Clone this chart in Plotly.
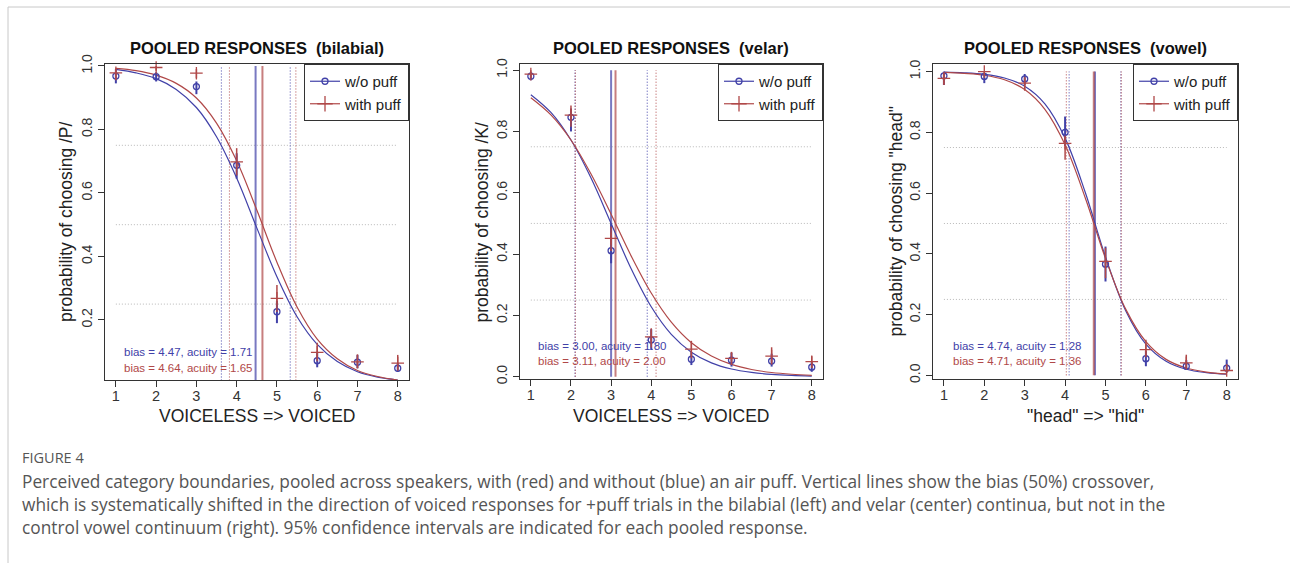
import plotly.graph_objects as go

W, H = 1290, 563

# ---------------- data ----------------
stimulus = [1, 2, 3, 4, 5, 6, 7, 8]
curve_x = [1, 1.5, 2, 2.5, 3, 3.5, 4, 4.5, 5, 5.5, 6, 6.5, 7, 7.5, 8]
x_ticks = [1, 2, 3, 4, 5, 6, 7, 8]

# bilabial
bil_nopuff = [0.968, 0.966, 0.935, 0.687, 0.226, 0.072, 0.067, 0.048]
bil_nopuff_lo = [0.945, 0.951, 0.911, 0.645, 0.190, 0.051, 0.048, 0.037]
bil_nopuff_hi = [0.990, 0.980, 0.951, 0.725, 0.260, 0.100, 0.090, 0.065]
bil_puff = [0.978, 0.995, 0.977, 0.698, 0.268, 0.098, 0.068, 0.064]
bil_puff_lo = [0.955, 0.985, 0.961, 0.655, 0.225, 0.070, 0.048, 0.040]
bil_puff_hi = [0.993, 1.000, 0.990, 0.741, 0.310, 0.128, 0.092, 0.090]
bil_curve_nopuff = [0.989, 0.978, 0.960, 0.926, 0.869, 0.777, 0.647, 0.490, 0.336,
                    0.210, 0.123, 0.069, 0.037, 0.020, 0.011]
bil_curve_puff = [0.992, 0.985, 0.971, 0.945, 0.899, 0.820, 0.701, 0.546, 0.382,
                  0.241, 0.140, 0.078, 0.041, 0.022, 0.011]
bil_bias = [4.47, 4.64]
bil_acuity = [1.71, 1.65]
bil_q_nopuff = [3.62, 5.33]
bil_q_puff = [3.82, 5.47]

# velar
vel_nopuff = [0.980, 0.846, 0.411, 0.120, 0.057, 0.054, 0.051, 0.031]
vel_nopuff_lo = [0.967, 0.800, 0.370, 0.087, 0.038, 0.033, 0.033, 0.016]
vel_nopuff_hi = [0.993, 0.875, 0.500, 0.155, 0.080, 0.078, 0.075, 0.050]
vel_puff = [0.987, 0.853, 0.451, 0.130, 0.090, 0.060, 0.067, 0.049]
vel_puff_lo = [0.975, 0.815, 0.410, 0.095, 0.060, 0.038, 0.040, 0.028]
vel_puff_hi = [1.000, 0.885, 0.490, 0.158, 0.117, 0.081, 0.096, 0.067]
vel_curve_nopuff = [0.920, 0.862, 0.772, 0.648, 0.500, 0.352, 0.228, 0.138, 0.080,
                    0.045, 0.025, 0.014, 0.0075, 0.0041, 0.0022]
vel_curve_puff = [0.910, 0.854, 0.772, 0.661, 0.530, 0.394, 0.273, 0.178, 0.111,
                  0.0675, 0.040, 0.0236, 0.0137, 0.0080, 0.0046]
vel_bias = [3.00, 3.11]
vel_acuity = [1.80, 2.00]
vel_q_nopuff = [2.10, 3.90]
vel_q_puff = [2.11, 4.12]

# vowel
vow_nopuff = [0.986, 0.984, 0.976, 0.800, 0.366, 0.055, 0.030, 0.024]
vow_nopuff_lo = [0.956, 0.962, 0.955, 0.755, 0.309, 0.030, 0.019, 0.010]
vow_nopuff_hi = [1.000, 0.995, 0.992, 0.852, 0.424, 0.080, 0.050, 0.052]
vow_puff = [0.978, 1.000, 0.962, 0.764, 0.375, 0.085, 0.041, 0.016]
vow_puff_lo = [0.956, 0.990, 0.937, 0.710, 0.320, 0.060, 0.020, 0.008]
vow_puff_hi = [0.995, 1.000, 0.980, 0.790, 0.420, 0.117, 0.068, 0.035]
vow_curve_nopuff = [0.998, 0.996, 0.991, 0.979, 0.952, 0.894, 0.781, 0.602, 0.390,
                    0.213, 0.103, 0.0465, 0.020, 0.0087, 0.0037]
vow_curve_puff = [0.9975, 0.994, 0.988, 0.973, 0.941, 0.876, 0.759, 0.584, 0.385,
                  0.218, 0.111, 0.0526, 0.0242, 0.0109, 0.0049]
vow_bias = [4.74, 4.71]
vow_acuity = [1.28, 1.36]
vow_q_nopuff = [4.10, 5.38]
vow_q_puff = [4.03, 5.39]

guide_levels = [0.25, 0.5, 0.75]
series_names = ["w/o puff", "with puff"]

# ---------------- style / layout ----------------
BLUE = "#4141a8"
RED = "#b04848"
FONT = "Liberation Sans, Arial, sans-serif"


def pxx(p):
    return p / W


def pxy(p):
    return 1 - p / H


panels = [
    dict(title="POOLED RESPONSES\u00a0 (bilabial)", ytitle="probability of choosing /P/",
         xtitle="VOICELESS => VOICED", box=(105, 409, 64, 380), yrange=[0.011, 1.006],
         yticks=[0.2, 0.4, 0.6, 0.8, 1.0], ytitle_x=66, bias_y=(351.5, 368),
         bias_x=121.5,
         d=(bil_nopuff, bil_nopuff_lo, bil_nopuff_hi, bil_puff, bil_puff_lo, bil_puff_hi,
            bil_curve_nopuff, bil_curve_puff, bil_bias, bil_acuity, bil_q_nopuff, bil_q_puff)),
    dict(title="POOLED RESPONSES\u00a0 (velar)", ytitle="probability of choosing /K/",
         xtitle="VOICELESS => VOICED", box=(520, 823, 64, 379), yrange=[-0.0075, 1.02],
         yticks=[0.0, 0.2, 0.4, 0.6, 0.8, 1.0], ytitle_x=481, bias_y=(346, 360.7),
         bias_x=536,
         d=(vel_nopuff, vel_nopuff_lo, vel_nopuff_hi, vel_puff, vel_puff_lo, vel_puff_hi,
            vel_curve_nopuff, vel_curve_puff, vel_bias, vel_acuity, vel_q_nopuff, vel_q_puff)),
    dict(title="POOLED RESPONSES\u00a0 (vowel)", ytitle='probability of choosing "head"',
         xtitle='"head" => "hid"', box=(933, 1238, 64, 379), yrange=[-0.012, 1.025],
         yticks=[0.0, 0.2, 0.4, 0.6, 0.8, 1.0], ytitle_x=895, bias_y=(346, 360.7),
         bias_x=950.5,
         d=(vow_nopuff, vow_nopuff_lo, vow_nopuff_hi, vow_puff, vow_puff_lo, vow_puff_hi,
            vow_curve_nopuff, vow_curve_puff, vow_bias, vow_acuity, vow_q_nopuff, vow_q_puff)),
]

fig = go.Figure()
annotations = []
layout_axes = {}

for i, p in enumerate(panels, start=1):
    sfx = "" if i == 1 else str(i)
    xa, ya = "x" + sfx, "y" + sfx
    lg = "legend" + sfx
    (nop, nop_lo, nop_hi, puf, puf_lo, puf_hi, c_nop, c_puf, bias, acu, q_nop, q_puf) = p["d"]
    x0, x1, y0, y1 = p["box"]

    # horizontal dotted guides
    for lv in guide_levels:
        fig.add_trace(go.Scatter(x=[stimulus[0], stimulus[-1]], y=[lv, lv], mode="lines",
                                 line=dict(color="#b8b8b8", width=1, dash="1px,2px"),
                                 xaxis=xa, yaxis=ya, showlegend=False, hoverinfo="skip"))
    # quartile (25/75%) dotted lines
    for qv, col in ((q_nop, BLUE), (q_puf, RED)):
        for q in qv:
            fig.add_trace(go.Scatter(x=[q, q], y=[0, 1], mode="lines",
                                     line=dict(color=col, width=1, dash="1px,2px"),
                                     xaxis=xa, yaxis=ya, showlegend=False, hoverinfo="skip"))
    # bias solid lines
    for b, col in zip(bias, (BLUE, RED)):
        fig.add_trace(go.Scatter(x=[b, b], y=[0, 1], mode="lines",
                                 line=dict(color=col, width=2), opacity=0.7,
                                 xaxis=xa, yaxis=ya, showlegend=False, hoverinfo="skip"))
    # fitted curves
    fig.add_trace(go.Scatter(x=curve_x, y=c_nop, mode="lines", line=dict(color=BLUE, width=1.2,
                             shape="spline"), xaxis=xa, yaxis=ya, showlegend=False))
    fig.add_trace(go.Scatter(x=curve_x, y=c_puf, mode="lines", line=dict(color=RED, width=1.2,
                             shape="spline"), xaxis=xa, yaxis=ya, showlegend=False))
    # points with CI
    fig.add_trace(go.Scatter(
        x=stimulus, y=nop, mode="markers",
        marker=dict(symbol="circle-open", size=6, color=BLUE, line=dict(width=1.3, color=BLUE)),
        error_y=dict(type="data", symmetric=False,
                     array=[h - v for h, v in zip(nop_hi, nop)],
                     arrayminus=[v - l for v, l in zip(nop, nop_lo)],
                     color=BLUE, thickness=2, width=0),
        xaxis=xa, yaxis=ya, showlegend=False, cliponaxis=False))
    fig.add_trace(go.Scatter(
        x=stimulus, y=puf, mode="markers",
        marker=dict(symbol="cross-thin-open", size=9, color=RED, line=dict(width=1.3, color=RED)),
        error_y=dict(type="data", symmetric=False,
                     array=[h - v for h, v in zip(puf_hi, puf)],
                     arrayminus=[v - l for v, l in zip(puf, puf_lo)],
                     color=RED, thickness=1.5, width=0),
        xaxis=xa, yaxis=ya, showlegend=False, cliponaxis=False))
    # legend entries
    fig.add_trace(go.Scatter(x=[None], y=[None], mode="lines+markers", name=series_names[0],
                             line=dict(color=BLUE, width=1.2),
                             marker=dict(symbol="circle-open", size=6, color=BLUE,
                                         line=dict(width=1.3, color=BLUE)),
                             xaxis=xa, yaxis=ya, legend=lg, showlegend=True))
    fig.add_trace(go.Scatter(x=[None], y=[None], mode="lines+markers", name=series_names[1],
                             line=dict(color=RED, width=1.2),
                             marker=dict(symbol="cross-thin-open", size=11, color=RED,
                                         line=dict(width=1.3, color=RED)),
                             xaxis=xa, yaxis=ya, legend=lg, showlegend=True))

    layout_axes["xaxis" + sfx] = dict(
        domain=[pxx(x0), pxx(x1)], anchor=ya, range=[0.73, 8.28], automargin=False,
        tickvals=x_ticks, ticks="outside", ticklen=6, tickwidth=1, tickcolor="#333",
        ticklabelstandoff=-3,
        showline=True, linecolor="#333", linewidth=1, mirror=True, showgrid=False,
        zeroline=False, tickfont=dict(family=FONT, size=14.5, color="#333"))
    layout_axes["yaxis" + sfx] = dict(
        domain=[pxy(y1), pxy(y0)], anchor=xa, range=p["yrange"], automargin=False,
        tickvals=p["yticks"], tickformat=".1f", tickangle=-90, ticks="outside", ticklen=6,
        tickwidth=1, tickcolor="#333", showline=True, linecolor="#333", linewidth=1,
        mirror=True, showgrid=False, zeroline=False,
        tickfont=dict(family=FONT, size=14, color="#333"))
    layout_axes[lg] = dict(
        x=pxx(x1), y=pxy(y0), xanchor="right", yanchor="top", bgcolor="white",
        bordercolor="#333", borderwidth=1, font=dict(family=FONT, size=15, color="#222"),
        itemwidth=30, tracegroupgap=0)

    cx = (x0 + x1) / 2
    annotations.append(dict(text="<b>" + p["title"] + "</b>", x=pxx(cx), y=pxy(48),
                            xref="paper", yref="paper", showarrow=False, xanchor="center",
                            yanchor="middle", font=dict(family=FONT, size=16.5, color="#111")))
    annotations.append(dict(text=p["xtitle"], x=pxx(cx), y=pxy(416), xref="paper", yref="paper",
                            showarrow=False, xanchor="center", yanchor="middle",
                            font=dict(family=FONT, size=17.5, color="#222")))
    annotations.append(dict(text=p["ytitle"], x=pxx(p["ytitle_x"]), y=pxy((y0 + y1) / 2),
                            xref="paper", yref="paper", showarrow=False, textangle=-90,
                            xanchor="center", yanchor="middle",
                            font=dict(family=FONT, size=17.5, color="#222")))
    for b, a, col, yy in zip(bias, acu, (BLUE, RED), p["bias_y"]):
        annotations.append(dict(text=f"bias = {b:.2f}, acuity = {a:.2f}", x=pxx(p["bias_x"]),
                                y=pxy(yy), xref="paper", yref="paper", showarrow=False,
                                xanchor="left", yanchor="middle",
                                font=dict(family=FONT, size=11.5, color=col)))

# caption
CAP = "Open Sans, Noto Sans, sans-serif"
annotations.append(dict(text="FIGURE 4", x=pxx(20), y=pxy(457), xref="paper", yref="paper",
                        showarrow=False, xanchor="left", yanchor="middle",
                        font=dict(family=CAP, size=14.5, color="#555")))
caption_lines = [
    "Perceived category boundaries, pooled across speakers, with (red) and without (blue) an air puff. Vertical lines show the bias (50%) crossover,",
    "which is systematically shifted in the direction of voiced responses for +puff trials in the bilabial (left) and velar (center) continua, but not in the",
    "control vowel continuum (right). 95% confidence intervals are indicated for each pooled response.",
]
for k, line in enumerate(caption_lines):
    annotations.append(dict(text=line, x=pxx(20), y=pxy(481 + 23 * k), xref="paper",
                            yref="paper", showarrow=False, xanchor="left", yanchor="middle",
                            font=dict(family=CAP, size=17.3, color="#555")))

shapes = [
    dict(type="line", xref="paper", yref="paper", x0=pxx(8), x1=1, y0=pxy(7), y1=pxy(7),
         line=dict(color="#c8c8c8", width=1)),
    dict(type="line", xref="paper", yref="paper", x0=pxx(8), x1=pxx(8), y0=pxy(7), y1=0,
         line=dict(color="#c8c8c8", width=1)),
]

fig.update_layout(width=W, height=H, margin=dict(l=0, r=0, t=0, b=0, autoexpand=False),
                  paper_bgcolor="white", plot_bgcolor="white",
                  annotations=annotations, shapes=shapes, **layout_axes)

fig.write_html("out.html", config={"displayModeBar": False},
               post_script="document.body.style.margin='0';document.body.style.overflow='hidden';")
